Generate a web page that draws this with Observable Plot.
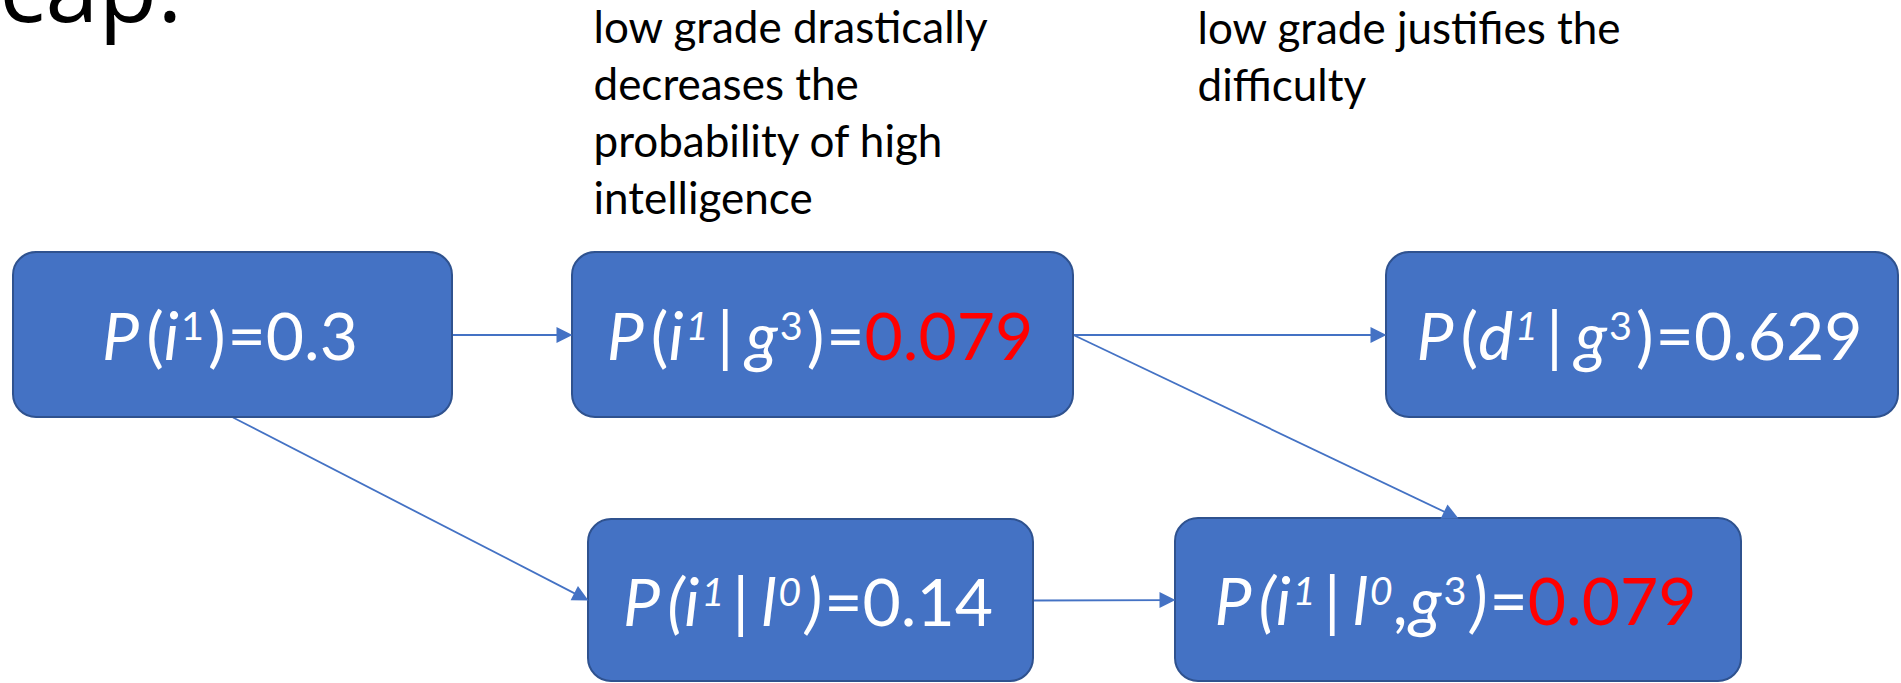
<!DOCTYPE html>
<html>
<head>
<meta charset="utf-8">
<script src="https://cdn.jsdelivr.net/npm/d3@7"></script>
<script src="https://cdn.jsdelivr.net/npm/@observablehq/plot@0.6"></script>
<style>
  html, body { margin: 0; padding: 0; background: #ffffff; overflow: hidden; }
</style>
</head>
<body>
<div id="chart"></div>
<script>
// ---- Diagram data ----
const nodeIds = ["i1", "i1_g3", "d1_g3", "i1_l0", "i1_l0g3"];
const nodeX1 = [13, 572, 1386, 588, 1175];
const nodeX2 = [452, 1073, 1898, 1033, 1741];
const nodeY1 = [252, 252, 252, 519, 518];
const nodeY2 = [417, 417, 417, 681, 681];

// formula segments: [text, style]  (i = italic, s = superscript, r = red)
const formulas = [
  [["P","i"],["(",""],["i","i"],["1","s"],[")",""],["=0.3",""]],
  [["P","i"],["(",""],["i","i"],["1","si"],["|","i"],["g","i"],["3","s"],[")",""],["=",""],["0.079","r"]],
  [["P","i"],["(",""],["d","i"],["1","si"],["|","i"],["g","i"],["3","s"],[")",""],["=0.629",""]],
  [["P","i"],["(","i"],["i","i"],["1","si"],["|","i"],["l","i"],["0","si"],[")","i"],["=0.14",""]],
  [["P","i"],["(","i"],["i","i"],["1","si"],["|","i"],["l","i"],["0","si"],[",","i"],["g","i"],["3","s"],[")","i"],["=",""],["0.079","r"]]
];

const edgeFrom = [0, 1, 1, 0, 3];
const edgeTo = [1, 2, 4, 3, 4];
const edgeFromSide = ["right", "right", "right", "bottom", "right"];
const edgeToSide = ["left", "left", "top", "left", "left"];

const annotationText = [
  "low grade drastically\ndecreases the\nprobability of high\nintelligence",
  "low grade justifies the\ndifficulty"
];
const annotationX = [593, 1197];
const annotationY = [213, 100]; // baseline of last line

const titleText = "Recap.";

// ---- Build tables ----
const nodes = nodeIds.map((id, i) => ({
  id, x1: nodeX1[i], x2: nodeX2[i], y1: nodeY1[i], y2: nodeY2[i],
  cx: (nodeX1[i] + nodeX2[i]) / 2, cy: (nodeY1[i] + nodeY2[i]) / 2,
  label: formulas[i].map(s => s[0]).join("")
}));

function sidePoint(n, side) {
  if (side === "right") return [n.x2, n.cy];
  if (side === "left") return [n.x1, n.cy];
  if (side === "top") return [n.cx, n.y1];
  return [n.cx, n.y2];
}

const edges = edgeFrom.map((f, i) => {
  const [ax, ay] = sidePoint(nodes[f], edgeFromSide[i]);
  const [bx, by] = sidePoint(nodes[edgeTo[i]], edgeToSide[i]);
  const dx = bx - ax, dy = by - ay, L = Math.hypot(dx, dy);
  return {
    ax, ay, bx, by,
    lx: bx - dx / L * 8, ly: by - dy / L * 8,
    angle: Math.atan2(dx, -dy) * 180 / Math.PI
  };
});

const annotations = annotationText.map((t, i) => ({ t, x: annotationX[i], y: annotationY[i] }));

// arrowhead: tip at origin, pointing up
const headSymbol = {
  draw(context) {
    context.moveTo(0, 0);
    context.lineTo(-8, 16);
    context.lineTo(8, 16);
    context.closePath();
  }
};

const BLUE = "#4472C4";
const F = 66;

const svg = Plot.plot({
  width: 1901,
  height: 683,
  margin: 0,
  axis: null,
  x: { domain: [0, 1901], range: [0, 1901] },
  y: { domain: [0, 683], range: [0, 683] },
  style: { fontFamily: "Lato, 'Open Sans', sans-serif", background: "#ffffff", overflow: "hidden" },
  marks: [
    Plot.text([titleText], {
      frameAnchor: "top-left", textAnchor: "end", lineAnchor: "bottom",
      dx: 182, dy: 21, fontSize: 96, fill: "#000000",
      fontFamily: "'Open Sans', sans-serif"
    }),
    Plot.text(annotations, {
      x: "x", y: "y", text: "t", textAnchor: "start", lineAnchor: "bottom",
      lineHeight: 57 / 44, fontSize: 44, fill: "#000000"
    }),
    Plot.link(edges, {
      x1: "ax", y1: "ay", x2: "lx", y2: "ly",
      stroke: BLUE, strokeWidth: 1.8
    }),
    Plot.rect(nodes, {
      x1: "x1", x2: "x2", y1: "y1", y2: "y2",
      fill: BLUE, stroke: "#2F528F", strokeWidth: 2, rx: 23
    }),
    Plot.dot(edges, {
      x: "bx", y: "by", rotate: "angle", symbol: headSymbol, r: 8,
      fill: BLUE, stroke: "none"
    }),
    Plot.text(nodes, {
      x: "cx", y: "cy", text: "label", dy: 25, dx: -3, lineAnchor: "bottom",
      textAnchor: "middle", fontSize: F, fill: "#ffffff"
    })
  ]
});

// rich text styling of the formula labels (italic, superscripts, red values)
function gapBefore(s, st, prev) {
  if (prev === "|") return 12;
  if (s === "(") return 7;
  if (s === "|") return 8;
  if (st.includes("s")) return 2;
  if (s === ")") return 4;
  if (s[0] === "=") return 2;
  if (s === ",") return 2;
  return 0;
}
const SUP = 0.6, RAISE = 0.3;
const labelIndex = new Map(nodes.map((n, i) => [n.label, i]));
d3.select(svg).selectAll("text").each(function () {
  const i = labelIndex.get(this.textContent);
  if (i === undefined) return;
  const t = d3.select(this);
  t.text(null);
  let raised = false, prev = null;
  formulas[i].forEach(([s, st]) => {
    const ts = t.append("tspan").text(s);
    if (st.includes("i")) ts.attr("font-style", "italic");
    if (st.includes("r")) ts.attr("fill", "#FF0000");
    const gap = gapBefore(s, st, prev);
    if (gap) ts.attr("dx", gap);
    const sup = st.includes("s");
    if (sup) ts.attr("font-size", SUP * F);
    if (sup && !raised) { ts.attr("dy", -RAISE * F); raised = true; }
    else if (!sup && raised) { ts.attr("dy", RAISE * F); raised = false; }
    prev = s;
  });
});

document.getElementById("chart").appendChild(svg);
</script>
</body>
</html>
